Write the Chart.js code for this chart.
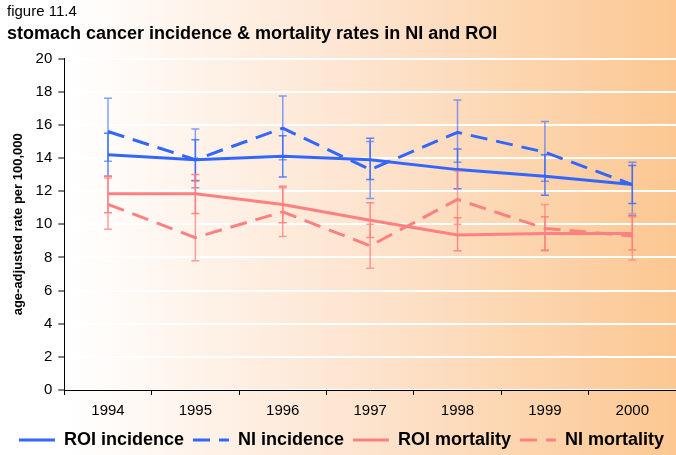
<!DOCTYPE html>
<html>
<head>
<meta charset="utf-8">
<script src="https://cdn.jsdelivr.net/npm/chart.js@4.4.1/dist/chart.umd.min.js"></script>
<style>
  html, body { margin: 0; padding: 0; }
  #wrap {
    width: 676px;
    height: 455px;
    background: linear-gradient(to right, #ffffff 0%, #ffffff 10%, #fde3cd 55%, #fcc791 100%);
  }
</style>
</head>
<body>
<div id="wrap"><canvas id="chart" width="676" height="455"></canvas></div>
<script>
const years = ["1994", "1995", "1996", "1997", "1998", "1999", "2000"];
const yTicks = [0, 2, 4, 6, 8, 10, 12, 14, 16, 18, 20];

const roiIncidence = [14.2, 13.9, 14.1, 13.9, 13.3, 12.9, 12.4];
const niIncidence = [15.6, 13.9, 15.8, 13.3, 15.55, 14.35, 12.4];
const roiMortality = [11.85, 11.85, 11.2, 10.25, 9.35, 9.45, 9.45];
const niMortality = [11.2, 9.2, 10.75, 8.7, 11.5, 9.75, 9.3];

// confidence intervals (low / high)
const roiIncLow = [12.9, 12.65, 12.85, 12.7, 12.15, 11.75, 11.25];
const roiIncHigh = [15.5, 15.1, 15.35, 15.2, 14.55, 14.2, 13.55];
const niIncLow = [13.8, 12.2, 13.9, 11.55, 13.75, 12.6, 10.55];
const niIncHigh = [17.6, 15.75, 17.75, 15.0, 17.5, 16.2, 13.75];
const roiMortLow = [10.7, 10.65, 10.1, 9.2, 8.4, 8.45, 8.45];
const roiMortHigh = [12.9, 13.0, 12.3, 11.3, 10.4, 10.45, 10.45];
const niMortLow = [9.7, 7.8, 9.27, 7.35, 10.0, 8.4, 7.85];
const niMortHigh = [12.8, 12.6, 12.2, 10.0, 13.2, 11.2, 10.65];

const blue = "#3366ff";
const pink = "#ff8080";

const errorBars = [
  { low: roiIncLow, high: roiIncHigh, color: "rgba(51,102,255,0.8)" },
  { low: niIncLow, high: niIncHigh, color: "rgba(51,102,255,0.6)" },
  { low: roiMortLow, high: roiMortHigh, color: "rgba(255,128,128,0.9)" },
  { low: niMortLow, high: niMortHigh, color: "rgba(255,128,128,0.75)" },
];

const errorBarPlugin = {
  id: "errorBars",
  afterDatasetsDraw(chart) {
    const ctx = chart.ctx;
    const xs = chart.scales.x;
    const ys = chart.scales.y;
    ctx.save();
    ctx.lineWidth = 1.5;
    errorBars.forEach((eb) => {
      ctx.strokeStyle = eb.color;
      eb.low.forEach((lo, i) => {
        const x = xs.getPixelForValue(i);
        const y1 = ys.getPixelForValue(lo);
        const y2 = ys.getPixelForValue(eb.high[i]);
        ctx.beginPath();
        ctx.moveTo(x, y1);
        ctx.lineTo(x, y2);
        ctx.moveTo(x - 4, y1);
        ctx.lineTo(x + 4, y1);
        ctx.moveTo(x - 4, y2);
        ctx.lineTo(x + 4, y2);
        ctx.stroke();
      });
    });
    ctx.restore();
  },
};

Chart.defaults.font.family = "'Liberation Sans', Arial, sans-serif";
Chart.defaults.color = "#000";

const ctx = document.getElementById("chart").getContext("2d");
new Chart(ctx, {
  type: "line",
  data: {
    labels: years,
    datasets: [
      { label: "ROI incidence", data: roiIncidence, borderColor: blue, backgroundColor: blue },
      { label: "NI incidence", data: niIncidence, borderColor: blue, backgroundColor: blue, borderDash: [17, 9] },
      { label: "ROI mortality", data: roiMortality, borderColor: pink, backgroundColor: pink },
      { label: "NI mortality", data: niMortality, borderColor: pink, backgroundColor: pink, borderDash: [17, 9] },
    ],
  },
  options: {
    responsive: false,
    animation: false,
    devicePixelRatio: 1,
    layout: { padding: { left: 7, right: 0, top: 0, bottom: -4 } },
    elements: {
      line: { borderWidth: 3, tension: 0, fill: false },
      point: { radius: 0, hoverRadius: 0 },
    },
    scales: {
      x: {
        offset: true,
        grid: { offset: true, drawOnChartArea: false, tickLength: 5, tickColor: "#000" },
        border: { color: "#000", width: 1 },
        ticks: { font: { size: 15 }, padding: 7, maxRotation: 0 },
        afterFit: (scale) => {
          scale.height -= 5;
        },
      },
      y: {
        min: 0,
        max: 20,
        afterBuildTicks: (scale) => {
          scale.ticks = yTicks.map((v) => ({ value: v }));
        },
        grid: { color: "#ffffff", lineWidth: 2, tickColor: "#000", tickWidth: 1, tickLength: 6 },
        border: { color: "#000", width: 1 },
        ticks: { font: { size: 15 }, padding: 6 },
        title: {
          display: true,
          text: "age-adjusted rate per 100,000",
          font: { size: 13, weight: "bold" },
          padding: { top: 4, bottom: 3 },
        },
      },
    },
    plugins: {
      title: {
        display: true,
        text: "figure 11.4",
        align: "start",
        font: { size: 15, weight: "normal" },
        padding: { top: 3, bottom: 2 },
      },
      subtitle: {
        display: true,
        text: "stomach cancer incidence & mortality rates in NI and ROI",
        align: "start",
        color: "#000",
        font: { size: 18, weight: "bold" },
        padding: { top: 0, bottom: 14 },
      },
      legend: {
        position: "bottom",
        labels: {
          usePointStyle: true,
          pointStyle: "line",
          pointStyleWidth: 36,
          boxWidth: 36,
          padding: 9,
          font: { size: 18, weight: "bold" },
          generateLabels: (chart) => {
            const items = Chart.defaults.plugins.legend.labels.generateLabels(chart);
            items.forEach((item, i) => {
              const ds = chart.data.datasets[i];
              item.lineWidth = 3;
              item.lineDash = ds.borderDash || [];
              item.strokeStyle = ds.borderColor;
            });
            return items;
          },
        },
      },
      tooltip: { enabled: false },
    },
  },
  plugins: [errorBarPlugin],
});
</script>
</body>
</html>
